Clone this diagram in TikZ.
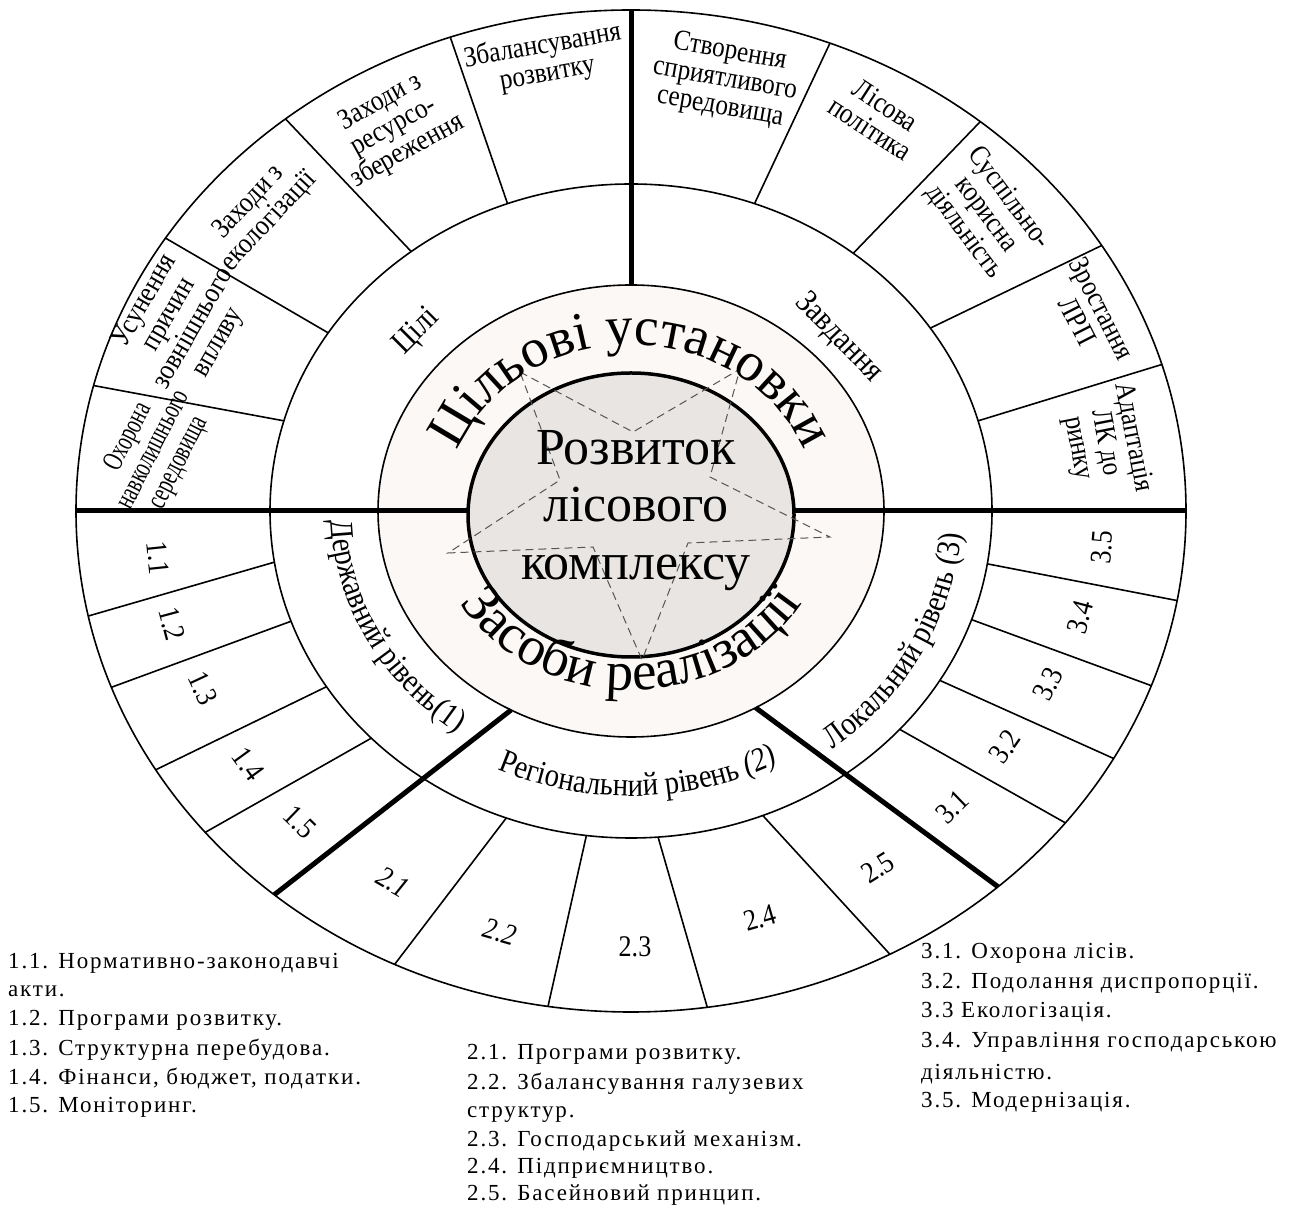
\documentclass[tikz,border=0pt]{standalone}
\usepackage{fontspec}
\setmainfont{Liberation Serif}
\newfontfamily\mainserif{Liberation Serif}
\newfontfamily\condfont[FakeStretch=0.87]{Liberation Serif}
\newfontfamily\listfont[LetterSpace=8]{Liberation Serif}
\usetikzlibrary{decorations.text}
\definecolor{beigefill}{HTML}{FBF8F5}
\definecolor{corefill}{HTML}{E8E5E3}
\definecolor{stargray}{HTML}{555555}
\tikzset{
  sepline/.style={line width=1.6pt},
  boldline/.style={line width=5pt},
  seglabel/.style={align=center, inner sep=0pt, font=\condfont\fontsize{29}{28}\selectfont},
  numlabel/.style={inner sep=0pt, font=\condfont\fontsize{30}{30}\selectfont},
  ringlabel/.style={inner sep=0pt, font=\condfont\fontsize{33}{33}\selectfont},
  listline/.style={anchor=base west, inner sep=0pt, font=\listfont\fontsize{23}{23}\selectfont},
  corefont/.style={anchor=base, inner sep=0pt, font=\mainserif\fontsize{52}{52}\selectfont},
}
\begin{document}
\begin{tikzpicture}[x=1pt,y=1pt]
\fill[white] (0,0) rectangle (1295,1210);
\useasboundingbox (0,0) rectangle (1295,1210);
\begin{scope}[shift={(631,699)}]
  % outer ring
  \draw[sepline, fill=white] (0,0) ellipse [x radius=555, y radius=501];
  % separators, top half
  \foreach \a/\b in {110/109, 127.5/128.5, 147/147, 164/165.5, 70/69, 52/51, 34/32, 16/17}
    \draw[sepline] (\a:361 and 327) -- (\b:555 and 501);
  % separators, bottom half
  \foreach \a/\b in {189/192.1, 199.7/200.6, 212.5/211.1, 224/219.9,
                     249.8/244.8, 262.9/261.4, 274.3/277.9, 291.4/297.8,
                     318.1/321.5, 328.8/330.4, 340.6/339.6, 350.7/349.7}
    \draw[sepline] (\a:361 and 327) -- (\b:555 and 501);
  % middle ring
  \draw[sepline] (0,0) ellipse [x radius=361, y radius=327];
  % beige ring
  \draw[sepline, fill=beigefill] (0,0) ellipse [x radius=253, y radius=226];
  % thick dividers
  \draw[boldline] (180:555 and 501) -- (-150,0);
  \draw[boldline] (0:555 and 501) -- (150,0);
  \draw[boldline] (90:555 and 501) -- (90:253 and 226);
  \draw[boldline] (241.7:253 and 226) -- (230:555 and 501);
  \draw[boldline] (299.5:253 and 226) -- (311.4:555 and 501);
  % core ellipse
  \draw[line width=3.5pt, fill=corefill] (0,-4) ellipse [x radius=163, y radius=142];
  % dashed star
  \draw[stargray, line width=1pt, dash pattern=on 8pt off 5pt]
    (-111,139) -- (2,79) -- (109,142) -- (79,34) -- (199,-26) -- (57,-32)
    -- (11,-149) -- (-38,-36) -- (-183,-42) -- (-71,31) -- cycle;
  % core text
  \node[corefont] (c1) at (5,46) {Розвиток};
  \node[corefont] (c2) at (5,-11) {лісового};
  \node[corefont] (c3) at (5,-69) {комплексу};
  % curved titles
  \path[decorate, decoration={text along path, text align=center,
      text={|\mainserif\fontsize{55}{55}\selectfont|Цільові установки}}]
    (180:186 and 166) arc[start angle=180, end angle=0, x radius=186, y radius=166];
  \path[decorate, decoration={text along path, text align=center,
      text={|\mainserif\fontsize{55}{55}\selectfont|Засоби реалізації}}]
    (180:200 and 179) arc[start angle=180, end angle=360, x radius=200, y radius=179];
  % middle ring labels
  \node[ringlabel, rotate=45] (tsili) at (-214,179) {Цілі};
  \node[ringlabel, rotate=-46] (tzavd) at (208,173) {Завдання};
  \path[decorate, decoration={text along path, text align=left,
      text={|\condfont\fontsize{33}{33}\selectfont|Державний рівень(1)}}]
    (182:300 and 272) arc[start angle=182, end angle=260, x radius=300, y radius=272];
  \path[decorate, decoration={text along path, text align=center,
      text={|\condfont\fontsize{33}{33}\selectfont|Регіональний рівень |\condfont\fontsize{33}{33}\selectfont\itshape|(2)}}]
    (222:315 and 285) arc[start angle=222, end angle=321, x radius=315, y radius=285];
  \path[decorate, decoration={text along path, text align=left,
      text={|\condfont\fontsize{33}{33}\selectfont|Локальний рівень (3)}}]
    (307.5:331 and 300) arc[start angle=307.5, end angle=365, x radius=331, y radius=300];
  % top segment labels
  \node[seglabel, rotate=63] (s1) at (-477,61)
    {\scalebox{0.78}[1]{Охорона}\\\scalebox{0.78}[1]{навколишнього}\\\scalebox{0.78}[1]{середовища}};
  \node[seglabel, rotate=60] (s2) at (-449,189) {Усунення\\причин\\зовнішнього\\впливу};
  \node[seglabel, rotate=47] (s3) at (-372,299) {Заходи з\\екологізації};
  \node[seglabel, rotate=29] (s4) at (-237,384) {Заходи з\\ресурсо-\\збереження};
  \node[seglabel, rotate=10] (s5) at (-86,451) {Збалансування\\розвитку};
  \node[seglabel, rotate=-10] (s6) at (94,431) {Створення\\сприятливого\\середовища};
  \node[seglabel, rotate=-33] (s7) at (247,394) {Лісова\\політика};
  \node[seglabel, rotate=-53] (s8) at (355,296) {Суспільно-\\корисна\\діяльність};
  \node[seglabel, rotate=-63] (s9) at (459,196) {Зростання\\ЛРП};
  \node[seglabel, rotate=-79] (s10) at (474,68) {Адаптація\\ЛК до\\ринку};
  % bottom segment numbers
  \node[numlabel, rotate=-84] (n11) at (-473,-47) {1.1};
  \node[numlabel, rotate=-75] (n12) at (-459,-113) {1.2};
  \node[numlabel, rotate=-65] (n13) at (-428,-177) {1.3};
  \node[numlabel, rotate=-54] (n14) at (-383,-253) {1.4};
  \node[numlabel, rotate=-44] (n15) at (-331,-311) {1.5};
  \node[numlabel, rotate=-30] (n21) at (-238,-371) {\itshape 2.1};
  \node[numlabel, rotate=-16] (n22) at (-131,-421) {\itshape 2.2};
  \node[numlabel, rotate=0] (n23) at (4,-436) {2.3};
  \node[numlabel, rotate=16] (n24) at (129,-407) {2.4};
  \node[numlabel, rotate=32] (n25) at (247,-357) {2.5};
  \node[numlabel, rotate=44] (n31) at (321,-296) {3.1};
  \node[numlabel, rotate=55] (n32) at (374,-236) {3.2};
  \node[numlabel, rotate=65] (n33) at (417,-173) {3.3};
  \node[numlabel, rotate=75] (n34) at (449,-106) {3.4};
  \node[numlabel, rotate=85] (n35) at (471,-36) {3.5};
\end{scope}
% legends
\node[listline] (a1) at (8,241) {1.1. Нормативно-законодавчі};
\node[listline] (a2) at (8,213) {акти.};
\node[listline] (a3) at (8,184) {1.2. Програми розвитку.};
\node[listline] (a4) at (8,155) {1.3. Структурна перебудова.};
\node[listline] (a5) at (8,126) {1.4. Фінанси, бюджет, податки.};
\node[listline] (a6) at (8,98) {1.5. Моніторинг.};
\node[listline] (b1) at (467,150) {2.1. Програми розвитку.};
\node[listline] (b2) at (467,121) {2.2. Збалансування галузевих};
\node[listline] (b3) at (467,93) {структур.};
\node[listline] (b4) at (467,64) {2.3. Господарський механізм.};
\node[listline] (b5) at (467,37) {2.4. Підприємництво.};
\node[listline] (b6) at (467,10) {2.5. Басейновий принцип.};
\node[listline] (d1) at (921,251) {3.1. Охорона лісів.};
\node[listline] (d2) at (921,221) {3.2. Подолання диспропорції.};
\node[listline] (d3) at (921,192) {3.3 Екологізація.};
\node[listline] (d4) at (921,163) {3.4. Управління господарською};
\node[listline] (d5) at (921,131) {діяльністю.};
\node[listline] (d6) at (921,103) {3.5. Модернізація.};
\end{tikzpicture}
\end{document}
